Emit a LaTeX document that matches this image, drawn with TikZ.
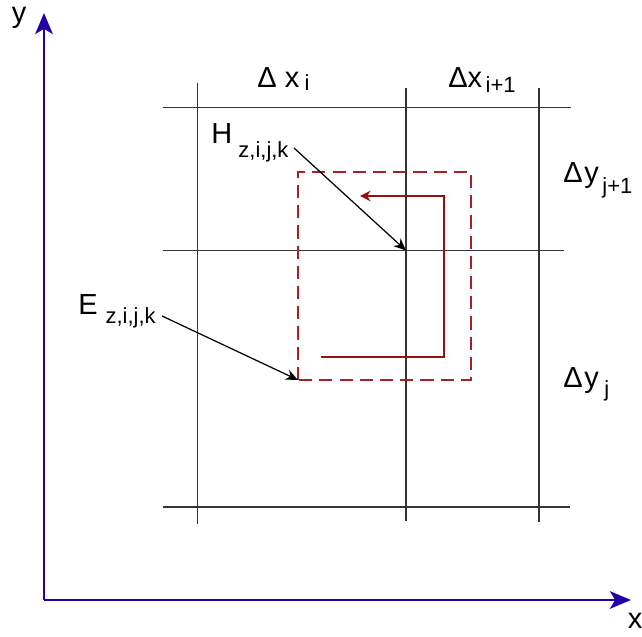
\documentclass[tikz,border=0pt]{standalone}
\usepackage{fontspec}
\setmainfont{Liberation Sans}
\usetikzlibrary{arrows.meta}
\definecolor{axisblue}{RGB}{36,0,168}
\definecolor{cellred}{RGB}{168,34,34}
\definecolor{loopred}{RGB}{150,16,16}
\newcommand{\lowsub}[2]{\raisebox{-#1}{\fontsize{12.5}{14}\selectfont #2}}
\begin{document}
\begin{tikzpicture}[
	axisarrow/.style={line width=1.3pt, axisblue, -{Stealth[length=12pt,width=10pt,inset=3pt]}},
	gridline/.style={line width=0.8pt, black!80},
	cellbox/.style={cellred, line width=0.8pt, dash pattern=on 7.5pt off 4pt},
	looppath/.style={loopred, line width=0.7pt, -{Stealth[length=6pt,width=6pt]}},
	pointer/.style={line width=0.7pt, -{Stealth[length=7pt,width=6pt]}},
	lbl/.style={font=\fontsize{16.5}{19}\selectfont, inner sep=0pt, anchor=base west}]
		\useasboundingbox (-0.88,-0.74) rectangle (11.96,12.0);

		\coordinate (O) at (0,0);
		\coordinate (xend) at (11.74,0);
		\coordinate (yend) at (0,11.74);
		\draw[axisarrow] (O) -- (xend);
		\draw[axisarrow] (O) -- (yend);
		\node[lbl, anchor=base] (xlab) at (11.82,-0.58) {x};
		\node[lbl, anchor=base] (ylab) at (-0.50,11.55) {y};

		\draw[gridline] (2.38,9.85) -- (10.54,9.85);
		\draw[gridline] (2.38,6.99) -- (10.40,6.99);
		\draw[gridline] (2.38,1.86) -- (10.52,1.86);
		\draw[gridline] (3.07,10.34) -- (3.07,1.52);
		\draw[gridline] (7.24,10.24) -- (7.24,1.58);
		\draw[gridline] (9.90,10.24) -- (9.90,1.56);

		\draw[cellbox] (5.08,4.40) rectangle (8.54,8.56);
		\coordinate (ecorner) at (5.08,4.40);
		\coordinate (hnode) at (7.24,6.99);
		\draw[looppath] (5.54,4.86) -- (8.00,4.86) -- (8.00,8.08) -- (6.32,8.08);

		\node[lbl] (dxi) at (4.26,10.24) {Δ x\hspace{3pt}\lowsub{1.5pt}{i}};
		\node[lbl] (dxip) at (8.08,10.24) {Δx\hspace{2pt}\lowsub{2.5pt}{i+1}};
		\node[lbl] (dyjp) at (10.38,8.34) {Δ\hspace{1pt}y\hspace{2pt}\lowsub{6pt}{j+1}};
		\node[lbl] (dyj) at (10.38,4.24) {Δ\hspace{1pt}y\hspace{3pt}\lowsub{5pt}{j}};

		\node[lbl] (hlab) at (3.34,9.12) {H\hspace{3.5pt}\lowsub{7.5pt}{z,i,j,k}};
		\node[lbl] (elab) at (0.68,5.70) {E\hspace{4.5pt}\lowsub{5pt}{z,i,j,k}};
		\coordinate (hstart) at (5.00,9.04);
		\coordinate (estart) at (2.36,5.68);
		\draw[pointer] (hstart) -- (hnode);
		\draw[pointer] (estart) -- (ecorner);

	\end{tikzpicture}
\end{document}
